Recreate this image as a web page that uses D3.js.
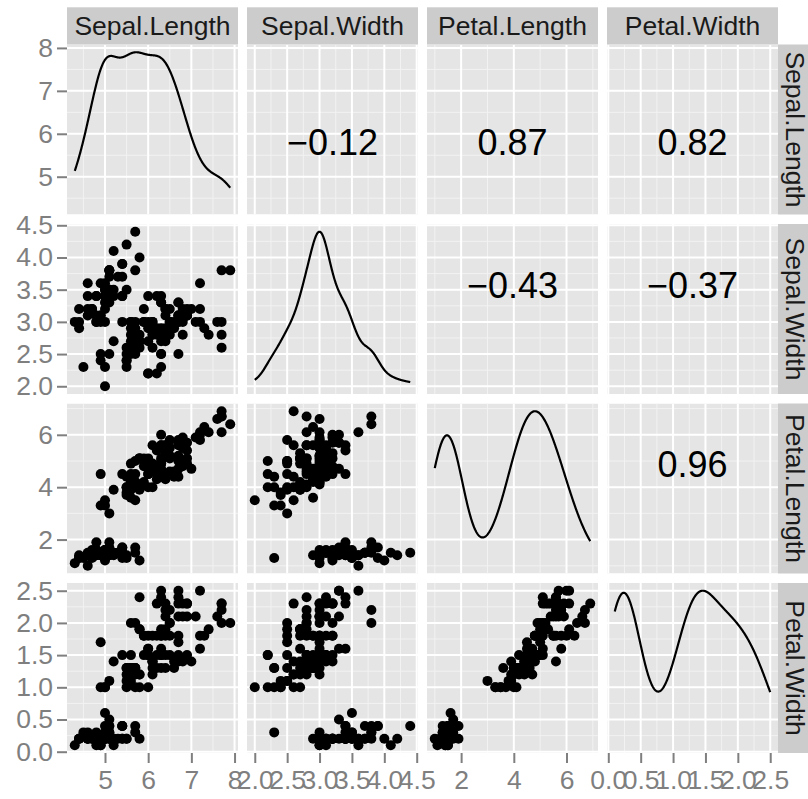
<!DOCTYPE html>
<html>
<head>
<meta charset="utf-8">
<script src="https://cdn.jsdelivr.net/npm/d3@7"></script>
<style>
  body { margin: 0; background: #ffffff; }
  svg { display: block; }
  text { font-family: "Liberation Sans", Arial, Helvetica, sans-serif; }
</style>
</head>
<body>
<svg id="chart" width="808" height="799"></svg>
<script>
// Edgar Anderson's iris measurements (150 flowers), one array per variable.
const variables = ["Sepal.Length", "Sepal.Width", "Petal.Length", "Petal.Width"];

const sepalLength = [
  5.1,4.9,4.7,4.6,5.0,5.4,4.6,5.0,4.4,4.9,5.4,4.8,4.8,4.3,5.8,5.7,5.4,5.1,5.7,5.1,
  5.4,5.1,4.6,5.1,4.8,5.0,5.0,5.2,5.2,4.7,4.8,5.4,5.2,5.5,4.9,5.0,5.5,4.9,4.4,5.1,
  5.0,4.5,4.4,5.0,5.1,4.8,5.1,4.6,5.3,5.0,
  7.0,6.4,6.9,5.5,6.5,5.7,6.3,4.9,6.6,5.2,5.0,5.9,6.0,6.1,5.6,6.7,5.6,5.8,6.2,5.6,
  5.9,6.1,6.3,6.1,6.4,6.6,6.8,6.7,6.0,5.7,5.5,5.5,5.8,6.0,5.4,6.0,6.7,6.3,5.6,5.5,
  5.5,6.1,5.8,5.0,5.6,5.7,5.7,6.2,5.1,5.7,
  6.3,5.8,7.1,6.3,6.5,7.6,4.9,7.3,6.7,7.2,6.5,6.4,6.8,5.7,5.8,6.4,6.5,7.7,7.7,6.0,
  6.9,5.6,7.7,6.3,6.7,7.2,6.2,6.1,6.4,7.2,7.4,7.9,6.4,6.3,6.1,7.7,6.3,6.4,6.0,6.9,
  6.7,6.9,5.8,6.8,6.7,6.7,6.3,6.5,6.2,5.9
];
const sepalWidth = [
  3.5,3.0,3.2,3.1,3.6,3.9,3.4,3.4,2.9,3.1,3.7,3.4,3.0,3.0,4.0,4.4,3.9,3.5,3.8,3.8,
  3.4,3.7,3.6,3.3,3.4,3.0,3.4,3.5,3.4,3.2,3.1,3.4,4.1,4.2,3.1,3.2,3.5,3.6,3.0,3.4,
  3.5,2.3,3.2,3.5,3.8,3.0,3.8,3.2,3.7,3.3,
  3.2,3.2,3.1,2.3,2.8,2.8,3.3,2.4,2.9,2.7,2.0,3.0,2.2,2.9,2.9,3.1,3.0,2.7,2.2,2.5,
  3.2,2.8,2.5,2.8,2.9,3.0,2.8,3.0,2.9,2.6,2.4,2.4,2.7,2.7,3.0,3.4,3.1,2.3,3.0,2.5,
  2.6,3.0,2.6,2.3,2.7,3.0,2.9,2.9,2.5,2.8,
  3.3,2.7,3.0,2.9,3.0,3.0,2.5,2.9,2.5,3.6,3.2,2.7,3.0,2.5,2.8,3.2,3.0,3.8,2.6,2.2,
  3.2,2.8,2.8,2.7,3.3,3.2,2.8,3.0,2.8,3.0,2.8,3.8,2.8,2.8,2.6,3.0,3.4,3.1,3.0,3.1,
  3.1,3.1,2.7,3.2,3.3,3.0,2.5,3.0,3.4,3.0
];
const petalLength = [
  1.4,1.4,1.3,1.5,1.4,1.7,1.4,1.5,1.4,1.5,1.5,1.6,1.4,1.1,1.2,1.5,1.3,1.4,1.7,1.5,
  1.7,1.5,1.0,1.7,1.9,1.6,1.6,1.5,1.4,1.6,1.6,1.5,1.5,1.4,1.5,1.2,1.3,1.4,1.3,1.5,
  1.3,1.3,1.3,1.6,1.9,1.4,1.6,1.4,1.5,1.4,
  4.7,4.5,4.9,4.0,4.6,4.5,4.7,3.3,4.6,3.9,3.5,4.2,4.0,4.7,3.6,4.4,4.5,4.1,4.5,3.9,
  4.8,4.0,4.9,4.7,4.3,4.4,4.8,5.0,4.5,3.5,3.8,3.7,3.9,5.1,4.5,4.5,4.7,4.4,4.1,4.0,
  4.4,4.6,4.0,3.3,4.2,4.2,4.2,4.3,3.0,4.1,
  6.0,5.1,5.9,5.6,5.8,6.6,4.5,6.3,5.8,6.1,5.1,5.3,5.5,5.0,5.1,5.3,5.5,6.7,6.9,5.0,
  5.7,4.9,6.7,4.9,5.7,6.0,4.8,4.9,5.6,5.8,6.1,6.4,5.6,5.1,5.6,6.1,5.6,5.5,4.8,5.4,
  5.6,5.1,5.1,5.9,5.7,5.2,5.0,5.2,5.4,5.1
];
const petalWidth = [
  0.2,0.2,0.2,0.2,0.2,0.4,0.3,0.2,0.2,0.1,0.2,0.2,0.1,0.1,0.2,0.4,0.4,0.3,0.3,0.3,
  0.2,0.4,0.2,0.5,0.2,0.2,0.4,0.2,0.2,0.2,0.2,0.4,0.1,0.2,0.2,0.2,0.2,0.1,0.2,0.2,
  0.3,0.3,0.2,0.6,0.4,0.3,0.2,0.2,0.2,0.2,
  1.4,1.5,1.5,1.3,1.5,1.3,1.6,1.0,1.3,1.4,1.0,1.5,1.0,1.4,1.3,1.4,1.5,1.0,1.5,1.1,
  1.8,1.3,1.5,1.2,1.3,1.4,1.4,1.7,1.5,1.0,1.1,1.0,1.2,1.6,1.5,1.6,1.5,1.3,1.3,1.3,
  1.2,1.4,1.2,1.0,1.3,1.2,1.3,1.3,1.1,1.3,
  2.5,1.9,2.1,1.8,2.2,2.1,1.7,1.8,1.8,2.5,2.0,1.9,2.1,2.0,2.4,2.3,1.8,2.2,2.3,1.5,
  2.3,2.0,2.0,1.8,2.1,1.8,1.8,1.8,2.1,1.6,1.9,2.0,2.2,1.5,1.4,2.3,2.4,1.8,1.8,2.1,
  2.4,2.3,1.9,2.3,2.5,2.3,1.9,2.0,2.3,1.8
];

// Axis tick labels for each variable.
const sepalLengthTicks = ["5", "6", "7", "8"];
const sepalWidthTicks = ["2.0", "2.5", "3.0", "3.5", "4.0", "4.5"];
const petalLengthTicks = ["2", "4", "6"];
const petalWidthTicks = ["0.0", "0.5", "1.0", "1.5", "2.0", "2.5"];

const columns = [sepalLength, sepalWidth, petalLength, petalWidth];
const tickLabels = [sepalLengthTicks, sepalWidthTicks, petalLengthTicks, petalWidthTicks];

// ---- layout ----
const W = 808, H = 799;
const gridLeft = 67, gridTop = 44.5;
const panelW = 171, panelH = 170;
const gapX = 9, gapY = 9.5;
const stripTop = 7.3, stripSize = 37;
const tickLen = 10;
const fontSize = 26.5, corFontSize = 36;
const pointRadius = 5;
const corLabelShift = [13, -24, -24];  // vertical nudge of the correlation text per row

const panelBg = "#E5E5E5", stripBg = "#CCCCCC", axisGrey = "#7F7F7F", minorGrid = "#F2F2F2";

const svg = d3.select("#chart");
svg.append("rect").attr("width", W).attr("height", H).attr("fill", "#ffffff");

const colX = i => gridLeft + i * (panelW + gapX);
const rowY = j => gridTop + j * (panelH + gapY);

// ggplot-style continuous scale: data range widened by 5% each side
function extent5(arr) {
  const [lo, hi] = d3.extent(arr);
  const pad = (hi - lo) * 0.05;
  return [lo - pad, hi + pad];
}
const xScales = columns.map((c, i) => d3.scaleLinear().domain(extent5(c)).range([colX(i), colX(i) + panelW]));
const yScales = columns.map((c, j) => d3.scaleLinear().domain(extent5(c)).range([rowY(j) + panelH, rowY(j)]));
const majors = tickLabels.map(t => t.map(Number));

// minor breaks: midpoints between majors, plus one step beyond each end, kept inside the domain
function minorBreaks(maj, dom) {
  const step = maj[1] - maj[0];
  const out = [];
  for (let k = -1; k < maj.length; k++) {
    const v = maj[0] + (k + 0.5) * step;
    if (v >= dom[0] && v <= dom[1]) out.push(v);
  }
  return out;
}

// Gaussian kernel density with R's nrd0 bandwidth, evaluated across the data range
function density(arr, n = 512) {
  const sd = d3.deviation(arr);
  const sorted = arr.slice().sort(d3.ascending);
  const iqr = d3.quantileSorted(sorted, 0.75) - d3.quantileSorted(sorted, 0.25);
  const bw = 0.9 * Math.min(sd, iqr / 1.34) * Math.pow(arr.length, -0.2);
  const [lo, hi] = d3.extent(arr);
  const pts = [];
  for (let k = 0; k < n; k++) {
    const x = lo + (hi - lo) * k / (n - 1);
    let s = 0;
    for (const v of arr) { const u = (x - v) / bw; s += Math.exp(-0.5 * u * u); }
    pts.push([x, s / (arr.length * bw * Math.sqrt(2 * Math.PI))]);
  }
  return pts;
}

function pearson(a, b) {
  const ma = d3.mean(a), mb = d3.mean(b);
  let sab = 0, saa = 0, sbb = 0;
  for (let k = 0; k < a.length; k++) {
    const da = a[k] - ma, db = b[k] - mb;
    sab += da * db; saa += da * da; sbb += db * db;
  }
  return sab / Math.sqrt(saa * sbb);
}
const fmt = d3.format(".2f");

const defs = svg.append("defs");

for (let r = 0; r < 4; r++) {
  for (let c = 0; c < 4; c++) {
    const xs = xScales[c], ys = yScales[r];
    const x0 = colX(c), y0 = rowY(r);
    const id = `clip-${r}-${c}`;
    defs.append("clipPath").attr("id", id)
      .append("rect").attr("x", x0).attr("y", y0).attr("width", panelW).attr("height", panelH);

    const g = svg.append("g").attr("clip-path", `url(#${id})`);
    g.append("rect").attr("x", x0).attr("y", y0).attr("width", panelW).attr("height", panelH).attr("fill", panelBg);

    // grid
    const xMin = minorBreaks(majors[c], xs.domain());
    const yMin = minorBreaks(majors[r], ys.domain());
    g.selectAll(null).data(xMin).join("line")
      .attr("x1", d => xs(d)).attr("x2", d => xs(d)).attr("y1", y0).attr("y2", y0 + panelH)
      .attr("stroke", minorGrid).attr("stroke-width", 1);
    g.selectAll(null).data(yMin).join("line")
      .attr("y1", d => ys(d)).attr("y2", d => ys(d)).attr("x1", x0).attr("x2", x0 + panelW)
      .attr("stroke", minorGrid).attr("stroke-width", 1);
    g.selectAll(null).data(majors[c]).join("line")
      .attr("x1", d => xs(d)).attr("x2", d => xs(d)).attr("y1", y0).attr("y2", y0 + panelH)
      .attr("stroke", "#ffffff").attr("stroke-width", 2);
    g.selectAll(null).data(majors[r]).join("line")
      .attr("y1", d => ys(d)).attr("y2", d => ys(d)).attr("x1", x0).attr("x2", x0 + panelW)
      .attr("stroke", "#ffffff").attr("stroke-width", 2);

    if (r === c) {
      // density curve rescaled onto the variable's own range
      const data = columns[c];
      const dens = density(data);
      const dmax = d3.max(dens, d => d[1]);
      const [lo, hi] = d3.extent(data);
      const line = d3.line()
        .x(d => xs(d[0]))
        .y(d => ys(d[1] / dmax * (hi - lo) + lo));
      g.append("path").datum(dens).attr("d", line)
        .attr("fill", "none").attr("stroke", "#000000").attr("stroke-width", 2.2)
        .attr("stroke-linejoin", "round");
    } else if (r > c) {
      const xsData = columns[c], ysData = columns[r];
      g.selectAll(null).data(d3.range(xsData.length)).join("circle")
        .attr("cx", k => xs(xsData[k])).attr("cy", k => ys(ysData[k]))
        .attr("r", pointRadius).attr("fill", "#000000");
    } else {
      const rho = pearson(columns[c], columns[r]);
      g.append("text")
        .attr("x", x0 + panelW / 2)
        .attr("y", y0 + panelH / 2 + corLabelShift[r])
        .attr("text-anchor", "middle").attr("dominant-baseline", "central")
        .attr("font-size", corFontSize).attr("fill", "#000000")
        .text(fmt(rho));
    }
  }
}

// top strips
for (let c = 0; c < 4; c++) {
  svg.append("rect").attr("x", colX(c)).attr("y", stripTop).attr("width", panelW).attr("height", gridTop - stripTop)
    .attr("fill", stripBg);
  svg.append("text").attr("x", colX(c) + panelW / 2).attr("y", (stripTop + gridTop) / 2)
    .attr("text-anchor", "middle").attr("dominant-baseline", "central")
    .attr("font-size", fontSize).attr("fill", "#1a1a1a").text(variables[c]);
}
// right strips
const stripX = gridLeft + 4 * panelW + 3 * gapX;
for (let r = 0; r < 4; r++) {
  svg.append("rect").attr("x", stripX).attr("y", rowY(r)).attr("width", stripSize).attr("height", panelH)
    .attr("fill", stripBg);
  const cx = stripX + stripSize / 2 - 2, cy = rowY(r) + panelH / 2;
  svg.append("text").attr("transform", `translate(${cx},${cy}) rotate(90)`)
    .attr("text-anchor", "middle").attr("dominant-baseline", "central")
    .attr("font-size", fontSize).attr("fill", "#1a1a1a").text(variables[r]);
}

// axes
function styleAxis(sel) {
  sel.select(".domain").remove();
  sel.selectAll(".tick line").attr("stroke", axisGrey).attr("stroke-width", 2);
  sel.selectAll(".tick text").attr("fill", axisGrey).attr("font-size", fontSize)
    .attr("font-family", "\"Liberation Sans\", Arial, Helvetica, sans-serif");
}
for (let r = 0; r < 4; r++) {
  const ax = d3.axisLeft(yScales[r]).tickValues(majors[r]).tickFormat((d, k) => tickLabels[r][k])
    .tickSizeInner(tickLen).tickSizeOuter(0).tickPadding(4);
  svg.append("g").attr("transform", `translate(${gridLeft},0)`).call(ax).call(styleAxis);
}
const gridBottom = rowY(3) + panelH;
for (let c = 0; c < 4; c++) {
  const ax = d3.axisBottom(xScales[c]).tickValues(majors[c]).tickFormat((d, k) => tickLabels[c][k])
    .tickSizeInner(tickLen).tickSizeOuter(0).tickPadding(7);
  svg.append("g").attr("transform", `translate(0,${gridBottom})`).call(ax).call(styleAxis);
}
</script>
</body>
</html>
